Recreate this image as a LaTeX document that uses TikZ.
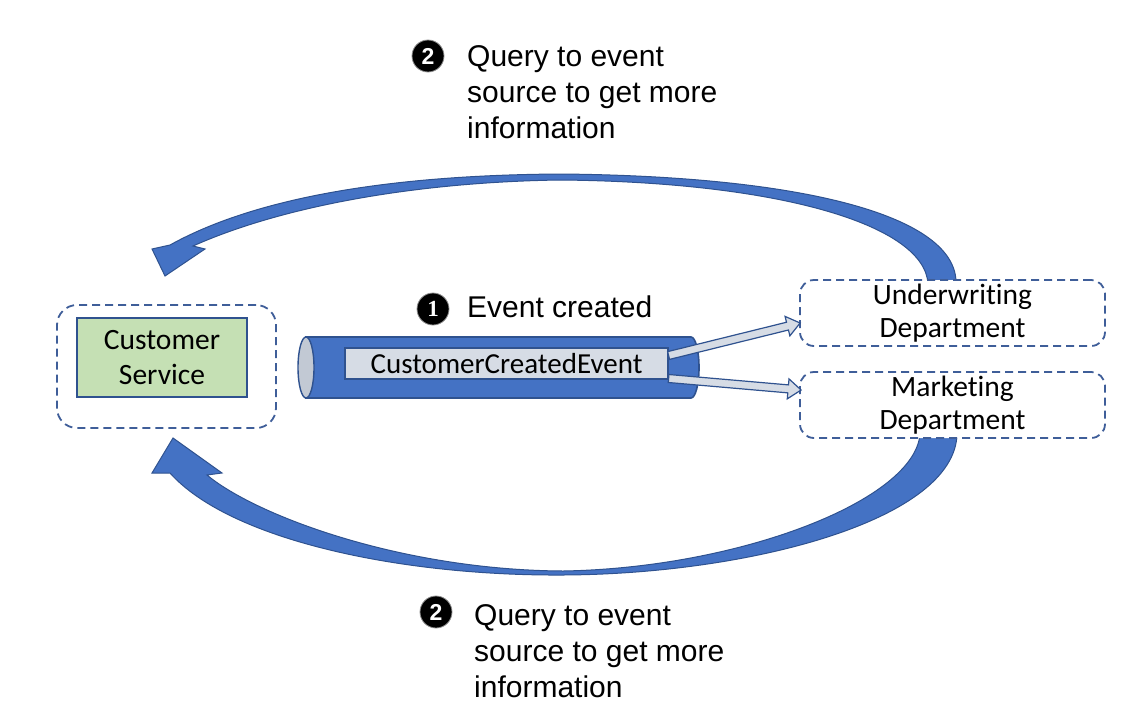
\documentclass[tikz,border=0pt]{standalone}
\usepackage{fontspec}
\setmainfont{Liberation Sans}
\newfontfamily\calibri[Ligatures=NoCommon]{Carlito}
\newfontfamily\serifnum{Liberation Serif}
\usetikzlibrary{calc}
\definecolor{ofblue}{HTML}{4472C4}
\definecolor{ofborder}{HTML}{2F528F}
\definecolor{dashcol}{HTML}{3F5E99}
\definecolor{lblgray}{HTML}{D6DCE5}
\definecolor{boxgreen}{HTML}{C5E0B4}
\definecolor{tubeend}{HTML}{C2C9D4}
\newcommand\blockarrow[2]{%
  \filldraw[blockarr] let \p1=(#1), \p2=(#2),
    \n1={atan2(\y2-\y1,\x2-\x1)}, \n2={veclen(\x2-\x1,\y2-\y1)-13pt} in
    ($(\p1)+(\n1+90:4pt)$) -- ($(\p1)+(\n1:\n2)+(\n1+90:4pt)$)
    -- ($(\p1)+(\n1:\n2)+(\n1+90:10pt)$) -- (\p2)
    -- ($(\p1)+(\n1:\n2)+(\n1-90:10pt)$) -- ($(\p1)+(\n1:\n2)+(\n1-90:4pt)$)
    -- ($(\p1)+(\n1-90:4pt)$) -- cycle;}
\begin{document}
\begin{tikzpicture}[x=1pt,y=-1pt,
  dashbox/.style={draw=dashcol, line width=1.8pt, dash pattern=on 8pt off 5pt,
    rounded corners=14pt, fill=white, inner sep=0pt},
  boxtext/.style={align=center, font=\calibri\fontsize{29.5}{35}\selectfont},
  greenbox/.style={draw=ofborder, line width=1.6pt, fill=boxgreen, inner sep=0pt},
  lblbox/.style={draw=ofborder, line width=1.2pt, fill=lblgray, inner sep=0pt,
    font=\calibri\fontsize{29}{35}\selectfont},
  tube/.style={fill=ofblue, draw=ofborder, line width=1.6pt},
  curvarr/.style={fill=ofblue, draw=ofborder, line width=1pt},
  blockarr/.style={fill=lblgray, draw=ofborder, line width=1.2pt, line join=miter},
  numcirc/.style={circle, fill=black, draw=black!45, line width=0.8pt,
    minimum size=32pt, inner sep=0pt, text=white},
  lbltext/.style={align=left, inner sep=0pt, font=\fontsize{30}{36}\selectfont}]
\useasboundingbox (0,0) rectangle (1137,718);

% curved arrows (behind the boxes)
\filldraw[curvarr] (956,284) .. controls (958,215) and (800,176) .. (560,174)
  .. controls (400,175) and (260,195) .. (170,245) -- (152,249) -- (165,276)
  -- (205,249) -- (193,246) .. controls (285,205) and (420,182) .. (560,180)
  .. controls (780,182) and (925,225) .. (928,284) -- cycle;
\filldraw[curvarr] (957,434) .. controls (955,520) and (750,574) .. (563,575)
  .. controls (400,576) and (230,540) .. (170,473) -- (152,473) -- (173,438)
  -- (222,473) -- (207,475) .. controls (255,515) and (400,570) .. (563,571)
  .. controls (740,568) and (915,500) .. (920,434) -- cycle;

% Customer Service
\node[dashbox, minimum width=219pt, minimum height=123pt, rounded corners=20pt]
  (csouter) at (166.5,366.5) {};
\node[greenbox, boxtext, minimum width=170pt, minimum height=79pt]
  (cs) at (162,357.5) {Customer\\Service};

% departments
\node[dashbox, boxtext, minimum width=305pt, minimum height=66pt]
  (uw) at (952.5,313) {\raisebox{-2pt}{Underwriting}\\Department};
\node[dashbox, boxtext, minimum width=305pt, minimum height=66pt]
  (mk) at (952.5,405) {\raisebox{-2pt}{Marketing}\\Department};

% tube
\filldraw[tube] (306,337) -- (691,337)
  arc[start angle=90, end angle=-90, x radius=8pt, y radius=30.5pt]
  -- (306,398) -- cycle;
\filldraw[fill=tubeend, draw=ofborder, line width=1.4pt] (306,367.5)
  ellipse[x radius=8pt, y radius=30.5pt];
\node[lblbox, minimum width=323pt, minimum height=31pt] (lbl) at (506.5,363.5)
  {CustomerCreatedEvent};

% block arrows
\coordinate (a1s) at ($(lbl.east)+(0,-8)$);
\coordinate (a1e) at ($(uw.west)+(1,10)$);
\coordinate (a2s) at ($(lbl.east)+(0,15)$);
\coordinate (a2e) at ($(mk.west)+(2,-15)$);
\blockarrow{a1s}{a1e}
\blockarrow{a2s}{a2e}

% labels
\node[numcirc, font=\serifnum\bfseries\fontsize{23}{23}\selectfont] (n1) at (433,309) {1};
\node[lbltext, anchor=base west] (t1) at (467,317) {Event created};
\node[numcirc, font=\bfseries\fontsize{23}{23}\selectfont] (n2a) at (428,56) {2};
\node[lbltext, anchor=north west] (t2a) at (467,45)
  {Query to event\\source to get more\\information};
\node[numcirc, font=\bfseries\fontsize{23}{23}\selectfont] (n2b) at (436,612) {2};
\node[lbltext, anchor=north west] (t2b) at (474,604)
  {Query to event\\source to get more\\information};
\end{tikzpicture}
\end{document}
